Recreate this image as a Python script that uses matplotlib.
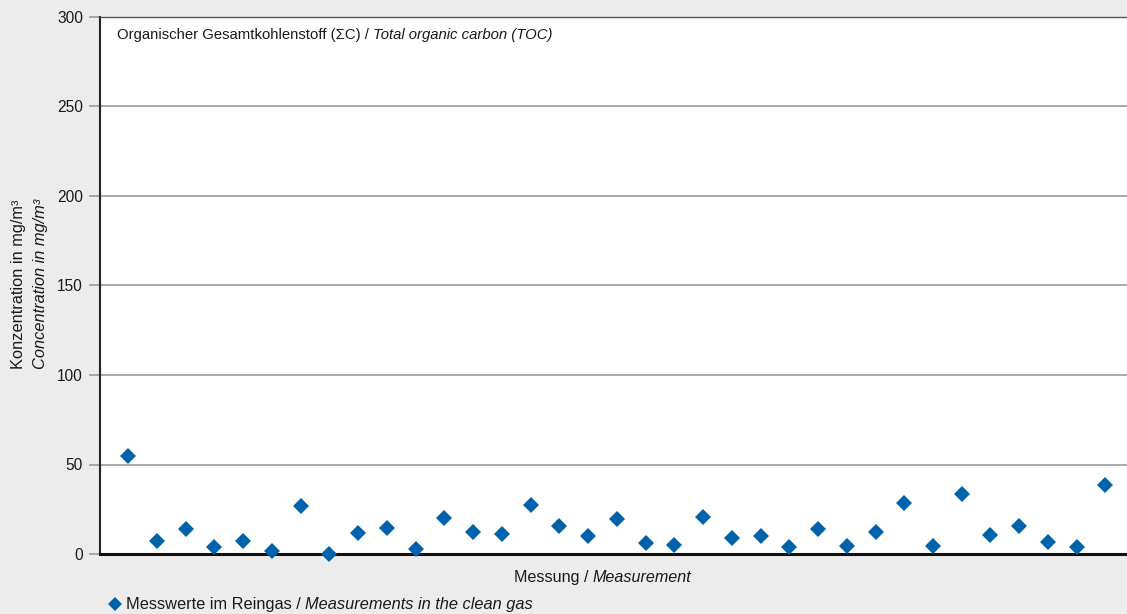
import numpy as np
import matplotlib
matplotlib.use("Agg")
import matplotlib.pyplot as plt
from matplotlib import font_manager
from matplotlib.lines import Line2D

toc_values = [54.6, 7.2, 13.9, 4.1, 7.2, 1.7, 26.6, 0.2, 11.5, 14.3,
              2.6, 20.1, 12.1, 11.1, 27.3, 15.8, 10.0, 19.7, 6.0, 5.0,
              20.6, 8.7, 10.0, 4.1, 13.9, 4.5, 12.1, 28.3, 4.3, 33.3,
              10.4, 15.8, 6.9, 4.1, 38.8]
y_ticks = [0, 50, 100, 150, 200, 250, 300]

title_parts = [("Organischer Gesamtkohlenstoff (\u03a3C) /", "normal"),
               ("Total organic carbon (TOC)", "italic")]
xlabel_parts = [("Messung /", "normal"), ("Measurement", "italic")]
legend_parts = [("Messwerte im Reingas /", "normal"),
                ("Measurements in the clean gas", "italic")]
ylabel_de = "Konzentration in mg/m\u00b3"
ylabel_en = "Concentration in mg/m\u00b3"

BLUE = "#0062ab"
BG = "#ebeceb"

installed = {f.name for f in font_manager.fontManager.ttflist}
if "Liberation Sans Narrow" in installed:
    plt.rcParams["font.family"] = ["Liberation Sans Narrow", "DejaVu Sans"]
else:
    plt.rcParams["font.family"] = ["Liberation Sans", "DejaVu Sans"]

W, H = 1127, 614
fig = plt.figure(figsize=(W / 100, H / 100), dpi=100, facecolor=BG)
ax = fig.add_axes([99.5 / W, 60 / H, 1 - 99.5 / W, 537 / H])
ax.set_facecolor("white")

x = np.arange(1, len(toc_values) + 1)
ax.plot(x, toc_values, linestyle="none", marker="D", markersize=7.8,
        color=BLUE, markeredgewidth=0, clip_on=False, zorder=3)

ax.set_xlim(0, 35.75)
ax.set_ylim(0, 300)
ax.set_yticks(y_ticks)
ax.set_yticklabels([str(v) for v in y_ticks], fontsize=11.2, color="#1a1a1a")
ax.set_xticks([])
ax.tick_params(axis="y", length=8, width=1.2, color="#999999", pad=4)
ax.yaxis.grid(True, color="#a8a8a8", linewidth=1.4)
ax.set_axisbelow(True)

ax.spines["right"].set_visible(False)
ax.spines["top"].set_color("#555555")
ax.spines["top"].set_linewidth(1.0)
ax.spines["left"].set_color("#222222")
ax.spines["left"].set_linewidth(1.5)
ax.spines["bottom"].set_color("#111111")
ax.spines["bottom"].set_linewidth(2.2)

renderer = fig.canvas.get_renderer()


def put_parts(x_px, base_px, parts, size, center=False):
    # draw regular + italic pieces side by side on one baseline
    gap = size * 100 / 72 * 0.26
    cur = x_px
    texts = []
    for i, (s, style) in enumerate(parts):
        if i > 0:
            cur += gap
        t = fig.text(cur / W, 1 - base_px / H, s, style=style, fontsize=size,
                     ha="left", va="baseline", color="#1a1a1a")
        cur = t.get_window_extent(renderer).x1
        texts.append(t)
    if center:
        shift = (cur - x_px) / 2
        for t in texts:
            px, py = t.get_position()
            t.set_position((px - shift / W, py))


put_parts(117, 39, title_parts, 10.7)
put_parts(603, 582, xlabel_parts, 11.6, center=True)
put_parts(126, 609, legend_parts, 11.8)
fig.add_artist(Line2D([115 / W], [1 - 604 / H], transform=fig.transFigure,
                      marker="D", markersize=6.8, color=BLUE,
                      markeredgewidth=0, linestyle="none"))

fig.text(19 / W, 1 - 284 / H, ylabel_de, rotation=90, fontsize=11.8,
         ha="center", va="center", color="#1a1a1a")
fig.text(41 / W, 1 - 284 / H, ylabel_en, rotation=90, fontsize=11.8,
         style="italic", ha="center", va="center", color="#1a1a1a")

fig.savefig("out.png", dpi=100, facecolor=BG)
